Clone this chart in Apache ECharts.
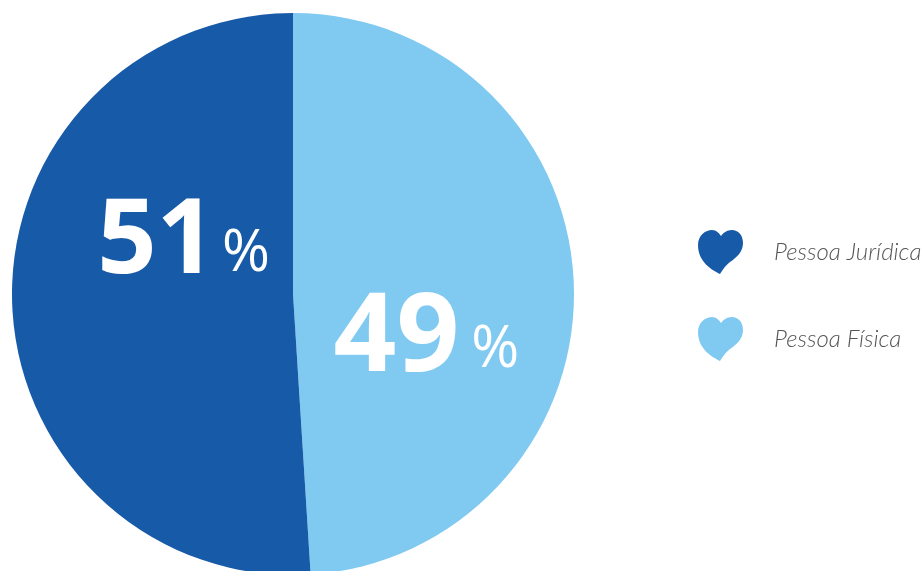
<!DOCTYPE html>
<html><head><meta charset="utf-8">
<style>html,body{margin:0;padding:0;background:#fff}#c{width:924px;height:571px}</style>
<script src="https://cdn.jsdelivr.net/npm/echarts@6/dist/echarts.min.js"></script>
</head><body><div id="c"></div>
<script>
const categories = ['Pessoa Física', 'Pessoa Jurídica'];
const values = [49, 51];
const legendOrder = ['Pessoa Jurídica', 'Pessoa Física'];
const colors = ['#80C9F1', '#175AA8'];
const heart = 'path://M22 44C14 40 0 32 0 15C0 5 8 0 14 0C18 0 21 3 23 6C25 3 29 0 34 0C40 0 45 5 45 13C45 22 38 28 32 32C28 35 25 39 22 44Z';
const labelStyles = [
  {offset: [-10, 50], numberSize: 110, gap: 12},
  {offset: [34, -55], numberSize: 104, gap: 6}
];

const chart = echarts.init(document.getElementById('c'), null, {renderer: 'canvas'});
chart.setOption({
  animation: false,
  legend: {
    data: legendOrder, orient: 'vertical', left: 693, top: 225,
    icon: heart, itemWidth: 45, itemHeight: 44, itemGap: 43, selectedMode: false,
    textStyle: {
      color: '#555555', fontFamily: 'Lato', fontStyle: 'italic', fontWeight: 300,
      fontSize: 24, padding: [0, 0, 0, 26]
    }
  },
  series: [{
    type: 'pie', center: [293, 294], radius: [0, 281], startAngle: 90, clockwise: true,
    silent: true,
    labelLine: {show: false},
    data: categories.map((name, i) => ({
      name, value: values[i],
      itemStyle: {color: colors[i]},
      label: {
        show: true, position: 'inside', offset: labelStyles[i].offset,
        formatter: p => `{n|${p.value}}{p|%}`,
        rich: {
          n: {color: '#fff', fontFamily: 'Open Sans', fontWeight: 700, fontSize: labelStyles[i].numberSize},
          p: {color: '#fff', fontFamily: 'Open Sans', fontWeight: 400, fontSize: 58, padding: [22, 0, 0, labelStyles[i].gap]}
        }
      }
    }))
  }]
});
</script></body></html>
